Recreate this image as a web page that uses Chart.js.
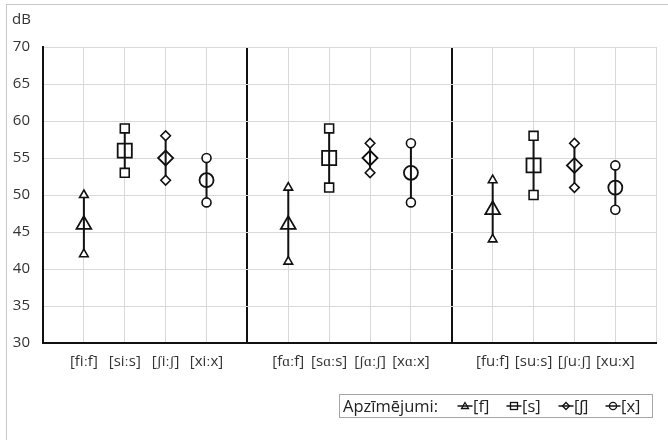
<!DOCTYPE html>
<html>
<head>
<meta charset="utf-8">
<script src="https://cdn.jsdelivr.net/npm/chart.js@4.4.1/dist/chart.umd.min.js"></script>
<style>
body { margin: 0; background: #fff; font-family: "Open Sans", sans-serif; }
#wrap { position: relative; width: 668px; height: 440px; overflow: hidden; }
#frame { position: absolute; left: 6px; top: 4px; width: 700px; height: 500px; border: 1px solid #c8c8c8; }
#unit { position: absolute; left: 12px; top: 8px; font-size: 15px; color: #333; }
#legend { position: absolute; left: 339px; top: 394px; width: 314px; height: 24px; border: 1px solid #a6a6a6;
  font-size: 16.5px; color: #222; box-sizing: border-box; }
#legend span { position: absolute; top: 0; height: 22px; line-height: 22px; display: inline-flex; align-items: center; white-space: nowrap; }
#legend svg { margin-right: 0px; }
canvas { position: absolute; left: 0; top: 0; }
</style>
</head>
<body>
<div id="wrap">
  <div id="frame"></div>
  <canvas id="myChart" width="668" height="440"></canvas>
  <div id="unit">dB</div>
  <div id="legend"><span style="left:3px">Apzīmējumi:</span></div>
</div>
<script>
"use strict"
// category labels, 4 per group, 3 groups
const categories = ["[fiːf]", "[siːs]", "[ʃiːʃ]", "[xiːx]",
                    "[fɑːf]", "[sɑːs]", "[ʃɑːʃ]", "[xɑːx]",
                    "[fuːf]", "[suːs]", "[ʃuːʃ]", "[xuːx]"];
const seriesNames = ["[f]", "[s]", "[ʃ]", "[x]"];
const yTicks = [30, 35, 40, 45, 50, 55, 60, 65, 70];

// one value per vowel group (i, ɑ, u)
const fMean = [46, 46, 48];
const fMin  = [42, 41, 44];
const fMax  = [50, 51, 52];
const sMean = [56, 55, 54];
const sMin  = [53, 51, 50];
const sMax  = [59, 59, 58];
const shMean = [55, 55, 54];
const shMin  = [52, 53, 51];
const shMax  = [58, 57, 57];
const xMean = [52, 53, 51];
const xMin  = [49, 49, 48];
const xMax  = [55, 57, 54];

const styles = [
  { point: "triangle", small: 5, big: 8.5 },
  { point: "rect", small: 6.3, big: 10 },
  { point: "rectRot", small: 4.8, big: 7.5 },
  { point: "circle", small: 4.5, big: 7 }
];
const means = [fMean, sMean, shMean, xMean];
const mins = [fMin, sMin, shMin, xMin];
const maxs = [fMax, sMax, shMax, xMax];

// group g, series s -> position on x axis (a gap slot between groups)
function xPos(g, s) { return g * 5 + s + 1; }
const labelAt = {};
for (let g = 0; g < 3; g++) for (let s = 0; s < 4; s++) labelAt[xPos(g, s)] = categories[g * 4 + s];

const datasets = [];
for (let s = 0; s < 4; s++) {
  const range = [];
  const mid = [];
  for (let g = 0; g < 3; g++) {
    range.push({ x: xPos(g, s), y: mins[s][g] });
    range.push({ x: xPos(g, s), y: maxs[s][g] });
    range.push({ x: xPos(g, s), y: null });
    mid.push({ x: xPos(g, s), y: means[s][g] });
  }
  datasets.push({
    label: seriesNames[s] + " range",
    data: range,
    borderColor: "#111",
    borderWidth: 2,
    pointStyle: styles[s].point,
    pointRadius: styles[s].small,
    pointBorderWidth: 1.6,
    pointBackgroundColor: "#fff",
    pointBorderColor: "#111",
    spanGaps: false,
    order: 1
  });
  datasets.push({
    label: seriesNames[s],
    data: mid,
    showLine: false,
    pointStyle: styles[s].point,
    pointRadius: styles[s].big,
    pointBorderWidth: 1.8,
    pointBackgroundColor: "#fff",
    pointBorderColor: "#111",
    order: 2
  });
}

let ctx = document.getElementById("myChart");
const myChart = new Chart(ctx, {
  type: "line",
  data: { datasets: datasets },
  options: {
    responsive: false,
    animation: false,
    layout: { padding: { left: 0, right: 9, top: 47, bottom: 57 } },
    plugins: { legend: { display: false }, tooltip: { enabled: false } },
    scales: {
      x: {
        type: "linear",
        min: 0, max: 15,
        afterFit: (scale) => { scale.height = 40; },
        afterBuildTicks: (scale) => {
          scale.ticks = [];
          for (let v = 0; v <= 15; v++) scale.ticks.push({ value: v });
        },
        ticks: {
          autoSkip: false, maxRotation: 0, padding: 10,
          color: "#333", font: { family: "Open Sans", size: 15 },
          callback: (v) => labelAt[v] || ""
        },
        grid: {
          drawTicks: false,
          color: (c) => (c.tick && (c.tick.value === 5 || c.tick.value === 10)) ? "#111" : "#d9d9d9",
          lineWidth: (c) => (c.tick && (c.tick.value === 5 || c.tick.value === 10)) ? 2 : 1
        },
        border: { color: "#111", width: 2 }
      },
      y: {
        min: 30, max: 70,
        afterFit: (scale) => { scale.width = 43; },
        afterBuildTicks: (scale) => { scale.ticks = yTicks.map(v => ({ value: v })); },
        ticks: { padding: 13, color: "#333", font: { family: "Open Sans", size: 15 } },
        grid: { drawTicks: false, color: "#d9d9d9" },
        border: { color: "#111", width: 2 }
      }
    }
  }
});

// html legend with line-through markers
const legend = document.getElementById("legend");
const shapes = [
  '<polygon points="8,3.5 11.5,9.5 4.5,9.5" />',
  '<rect x="4.5" y="3.5" width="7" height="7" />',
  '<polygon points="8,3.5 11.5,7 8,10.5 4.5,7" />',
  '<circle cx="8" cy="7" r="3.6" />'
];
const itemLeft = [117, 166, 218, 265];
for (let s = 0; s < 4; s++) {
  const el = document.createElement("span");
  el.style.left = itemLeft[s] + "px";
  el.innerHTML = '<svg width="16" height="14"><line x1="0.5" y1="7" x2="15.5" y2="7" stroke="#111" stroke-width="1.5"/>' +
    '<g fill="none" stroke="#111" stroke-width="1.3">' + shapes[s] + '</g></svg>' + seriesNames[s];
  legend.appendChild(el);
}
</script>
</body>
</html>
